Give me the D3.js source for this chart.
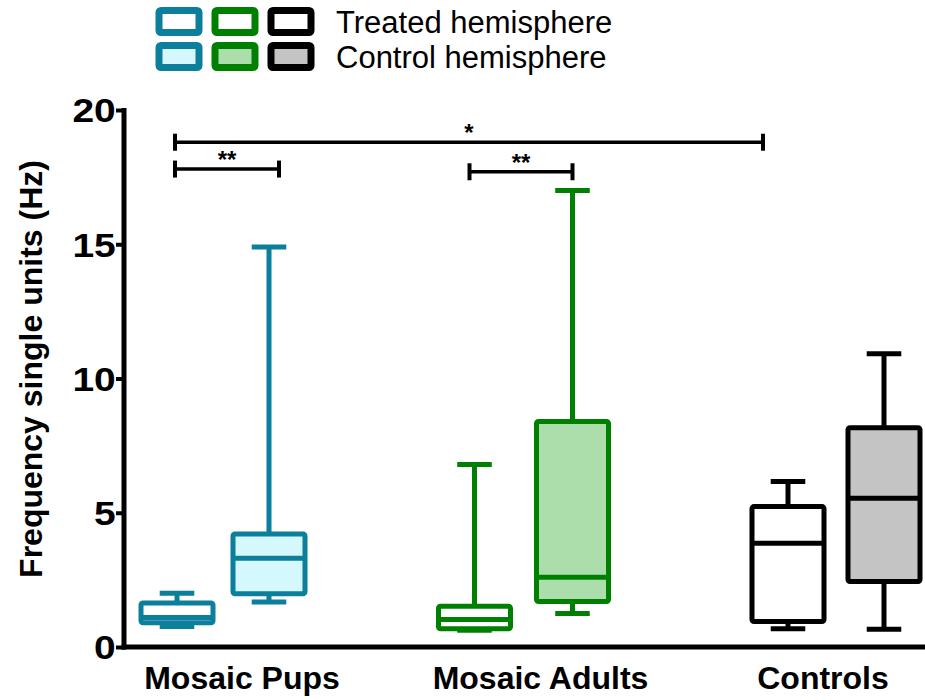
<!DOCTYPE html>
<html>
<head>
<meta charset="utf-8">
<script src="https://cdn.jsdelivr.net/npm/d3@7"></script>
<style>
  body { margin: 0; background: #fff; }
  svg { display: block; font-family: Arial, "Liberation Sans", sans-serif; }
</style>
</head>
<body>
<div id="chart"></div>
<script>
// data
const groups = ["Mosaic Pups", "Mosaic Adults", "Controls"];
const hemispheres = ["Treated hemisphere", "Control hemisphere"];
// [min, q1, median, q3, max] per group
const treatedStats = [
  [0.76, 0.9, 1.1, 1.64, 2.0],
  [0.62, 0.68, 1.02, 1.52, 6.8],
  [0.68, 0.95, 3.86, 5.23, 6.16]
];
const controlStats = [
  [1.68, 1.98, 3.31, 4.21, 14.9],
  [1.25, 1.69, 2.6, 8.4, 17.0],
  [0.66, 2.44, 5.54, 8.17, 10.92]
];
const yTicks = [0, 5, 10, 15, 20];
// significance bars: [group, hemi] -> [group, hemi]
const sigFrom = [[0, 0], [0, 0], [1, 0]];
const sigTo = [[2, 0], [0, 1], [1, 1]];
const sigLevel = [18.8, 17.8, 17.7];
const sigLabel = ["*", "**", "**"];

// styles / layout tweaks (px)
const strokeCols = [["#0b7f9b", "#0b7f9b"], ["#008000", "#008000"], ["#000", "#000"]];
const fillCols = [["#fff", "#d4f8fc"], ["#fff", "#acdeac"], ["#fff", "#c4c4c4"]];
const boxNudge = [[0, 0], [-9, -3], [-2, 2]];
const sigNudge = [[-2, -25], [-2, 10], [-5, 0]];
const labelShift = [19, 11, -13];

const width = 925, height = 700;
const svg = d3.select("#chart").append("svg")
  .attr("width", width).attr("height", height);

const y = d3.scaleLinear().domain([0, 20]).range([647, 110]);
const xg = d3.scalePoint().domain(groups).range([223, 836]);
const xh = d3.scalePoint().domain(hemispheres).range([-46, 46]);
const boxW = 72;

const cx = (g, h) => xg(groups[g]) + xh(hemispheres[h]) + boxNudge[g][h];

// axes
const yAxis = svg.append("g")
  .attr("transform", "translate(124,0)")
  .call(d3.axisLeft(y).tickValues(yTicks).tickSize(8).tickSizeOuter(0));
yAxis.select(".domain").attr("stroke", "#000").attr("stroke-width", 5)
  .attr("d", `M0,${y(20) - 2}V${y(0) + 2.5}`);
yAxis.selectAll(".tick line").attr("stroke", "#000").attr("stroke-width", 4);
yAxis.selectAll(".tick text")
  .attr("x", -7).attr("dy", "0.36em")
  .attr("transform", "scale(1.18,1)")
  .style("font-size", "33px").style("font-weight", "bold").attr("fill", "#000");

svg.append("line")
  .attr("x1", 121.5).attr("x2", width).attr("y1", y(0)).attr("y2", y(0))
  .attr("stroke", "#000").attr("stroke-width", 5);

svg.selectAll(".glabel").data(groups).join("text")
  .attr("class", "glabel")
  .attr("x", (d, i) => xg(d) + labelShift[i]).attr("y", 689)
  .attr("text-anchor", "middle")
  .style("font-size", "32px").style("font-weight", "bold")
  .text(d => d);

svg.append("text")
  .attr("transform", `translate(42,${369}) rotate(-90)`)
  .attr("text-anchor", "middle")
  .style("font-size", "32px").style("font-weight", "bold")
  .text("Frequency single units (Hz)");

// boxes
const boxes = [];
groups.forEach((g, gi) => {
  [treatedStats[gi], controlStats[gi]].forEach((s, hi) => {
    boxes.push({ gi, hi, s });
  });
});

const bx = svg.selectAll(".box").data(boxes).join("g").attr("class", "box");
bx.each(function(d) {
  const g = d3.select(this);
  const c = cx(d.gi, d.hi);
  const col = strokeCols[d.gi][d.hi];
  const [mn, q1, md, q3, mx] = d.s;
  const capW = boxW * 0.48;
  g.append("line").attr("x1", c).attr("x2", c).attr("y1", y(mx)).attr("y2", y(q3))
    .attr("stroke", col).attr("stroke-width", 5);
  g.append("line").attr("x1", c).attr("x2", c).attr("y1", y(q1)).attr("y2", y(mn))
    .attr("stroke", col).attr("stroke-width", 5);
  g.append("line").attr("x1", c - capW / 2).attr("x2", c + capW / 2).attr("y1", y(mx)).attr("y2", y(mx))
    .attr("stroke", col).attr("stroke-width", 5);
  g.append("line").attr("x1", c - capW / 2).attr("x2", c + capW / 2).attr("y1", y(mn)).attr("y2", y(mn))
    .attr("stroke", col).attr("stroke-width", 5);
  g.append("rect")
    .attr("x", c - boxW / 2).attr("width", boxW)
    .attr("y", y(q3)).attr("height", y(q1) - y(q3))
    .attr("rx", 2)
    .attr("fill", fillCols[d.gi][d.hi]).attr("stroke", col).attr("stroke-width", 5);
  g.append("line").attr("x1", c - boxW / 2).attr("x2", c + boxW / 2).attr("y1", y(md)).attr("y2", y(md))
    .attr("stroke", col).attr("stroke-width", 5);
});

// significance bars
sigLevel.forEach((lv, i) => {
  const x1 = cx(sigFrom[i][0], sigFrom[i][1]) + sigNudge[i][0];
  const x2 = cx(sigTo[i][0], sigTo[i][1]) + sigNudge[i][1];
  const yy = y(lv);
  const g = svg.append("g");
  g.append("line").attr("x1", x1).attr("x2", x2).attr("y1", yy).attr("y2", yy)
    .attr("stroke", "#000").attr("stroke-width", 3.5);
  [x1, x2].forEach(xx => g.append("line").attr("x1", xx).attr("x2", xx)
    .attr("y1", yy - 8.5).attr("y2", yy + 8.5).attr("stroke", "#000").attr("stroke-width", 4));
  g.append("text").attr("x", (x1 + x2) / 2).attr("y", yy - 1)
    .attr("text-anchor", "middle")
    .style("font-size", "24px").style("font-weight", "bold")
    .text(sigLabel[i]);
});

// legend
const leg = svg.append("g");
hemispheres.forEach((h, hi) => {
  const ly = 10.5 + hi * 35;
  groups.forEach((g, gi) => {
    leg.append("rect")
      .attr("x", 159 + gi * 56).attr("y", ly).attr("width", 40).attr("height", 22)
      .attr("rx", 2)
      .attr("fill", fillCols[gi][hi]).attr("stroke", strokeCols[gi][hi]).attr("stroke-width", 7);
  });
  leg.append("text").attr("x", 336).attr("y", 33 + hi * 34.5)
    .style("font-size", "31px").text(h);
});
</script>
</body>
</html>
